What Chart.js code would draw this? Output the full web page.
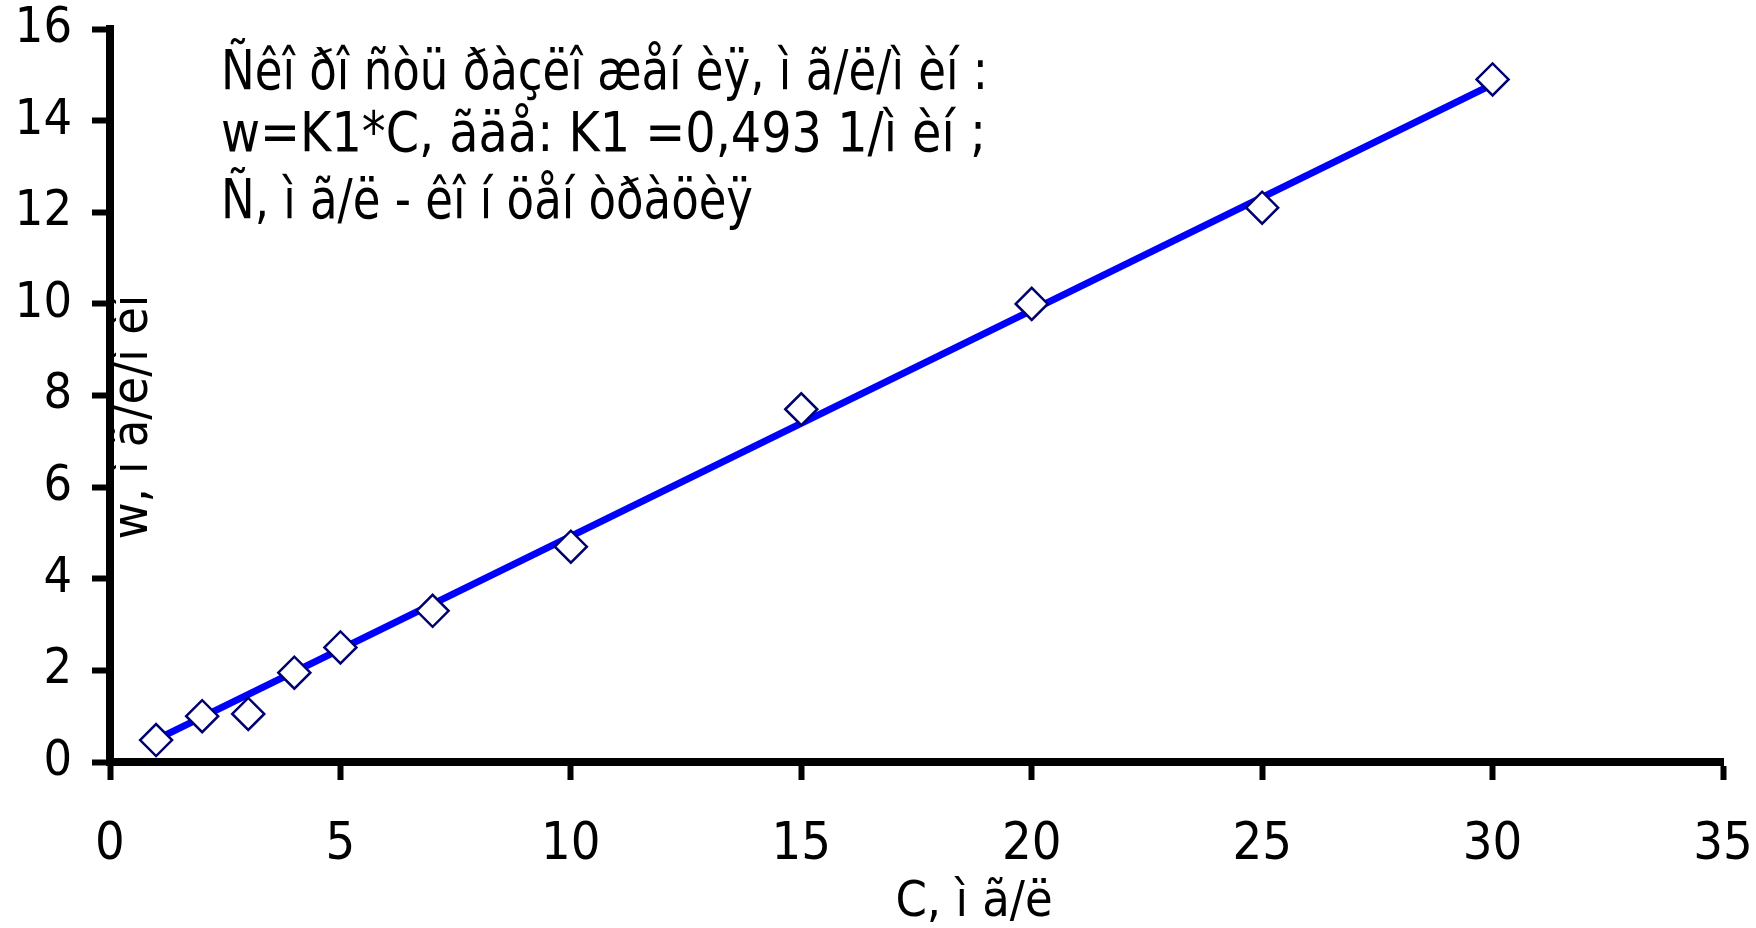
<!DOCTYPE html>
<html>
<head>
<meta charset="utf-8">
<script src="https://cdn.jsdelivr.net/npm/chart.js@4/dist/chart.umd.min.js"></script>
<style>
    body { margin: 0; background: #fff; }
    #wrap { width: 1756px; height: 928px; position: relative; }
</style>
</head>
<body>
<div id="wrap"><canvas id="chart"></canvas></div>
<script>
// measured points
const concX = [1, 2, 3, 4, 5, 7, 10, 15, 20, 25, 30];
const rateW = [0.48, 1.0, 1.05, 1.95, 2.5, 3.3, 4.7, 7.7, 10.0, 12.1, 14.9];

// fitted line, end points
const fitX = [1, 30];
const fitW = [0.49, 14.79];

const xTitle = 'C, ì ã/ë';
const yTitle = 'w, ì ã/ë/ì èí';
const noteLines = [
    'Ñêî ðî ñòü ðàçëî æåí èÿ, ì ã/ë/ì èí :',
    'w=K1*C, ãäå: K1 =0,493 1/ì èí ;',
    'Ñ, ì ã/ë - êî í öåí òðàöèÿ'
];

const fontFamily = "'DejaVu Sans Condensed', 'DejaVu Sans'";

const textPlugin = {
    id: 'texts',
    afterDraw(chart) {
        const ctx = chart.ctx;
        ctx.save();
        ctx.fillStyle = '#000';
        ctx.font = '56px ' + fontFamily;
        ctx.textBaseline = 'middle';

        // note in the top left
        const widths = [767, 765, 532];
        const rows = [74, 136, 203];
        ctx.textAlign = 'left';
        noteLines.forEach((t, i) => ctx.fillText(t, 221, rows[i], widths[i]));

        // x axis title
        ctx.textAlign = 'center';
        ctx.font = '50px ' + fontFamily;
        ctx.fillText(xTitle, 974, 903, 162);

        // y axis title, sits on the axis
        ctx.translate(134, 417);
        ctx.rotate(-Math.PI / 2);
        ctx.fillText(yTitle, 0, 0, 252);
        ctx.restore();
    }
};

const ctx = document.getElementById('chart').getContext('2d');
new Chart(ctx, {
    type: 'scatter',
    data: {
        datasets: [{
            data: concX.map((x, i) => ({x: x, y: rateW[i]})),
            pointStyle: 'rectRot',
            pointRadius: 16,
            pointHoverRadius: 16,
            pointBackgroundColor: '#fff',
            pointBorderColor: '#000070',
            pointBorderWidth: 2.5,
            showLine: false,
            clip: false
        }, {
            data: fitX.map((x, i) => ({x: x, y: fitW[i]})),
            showLine: true,
            borderColor: '#0000ff',
            borderWidth: 7,
            pointRadius: 0,
            clip: false
        }]
    },
    plugins: [textPlugin],
    options: {
        responsive: true,
        maintainAspectRatio: false,
        animation: false,
        layout: { padding: { left: 0, top: 29, right: 33, bottom: 0 } },
        plugins: {
            legend: { display: false },
            tooltip: { enabled: false }
        },
        scales: {
            x: {
                min: 0,
                max: 35,
                ticks: {
                    stepSize: 5,
                    color: '#000',
                    padding: 34,
                    font: { family: fontFamily, size: 52 }
                },
                grid: {
                    drawOnChartArea: false,
                    tickLength: 18,
                    tickWidth: 6,
                    tickColor: '#000'
                },
                border: { color: '#000', width: 8 },
                afterFit: (s) => {
                    s.height = 166;
                    s.paddingLeft = 0;
                    s.paddingRight = 0;
                }
            },
            y: {
                min: 0,
                max: 16,
                ticks: {
                    stepSize: 2,
                    color: '#000',
                    padding: 20,
                    font: { family: fontFamily, size: 50 }
                },
                grid: {
                    drawOnChartArea: false,
                    tickLength: 18,
                    tickWidth: 6,
                    tickColor: '#000'
                },
                border: { color: '#000', width: 8 },
                afterFit: (s) => {
                    s.width = 110;
                    s.paddingTop = 0;
                    s.paddingBottom = 0;
                }
            }
        }
    }
});
</script>
</body>
</html>
